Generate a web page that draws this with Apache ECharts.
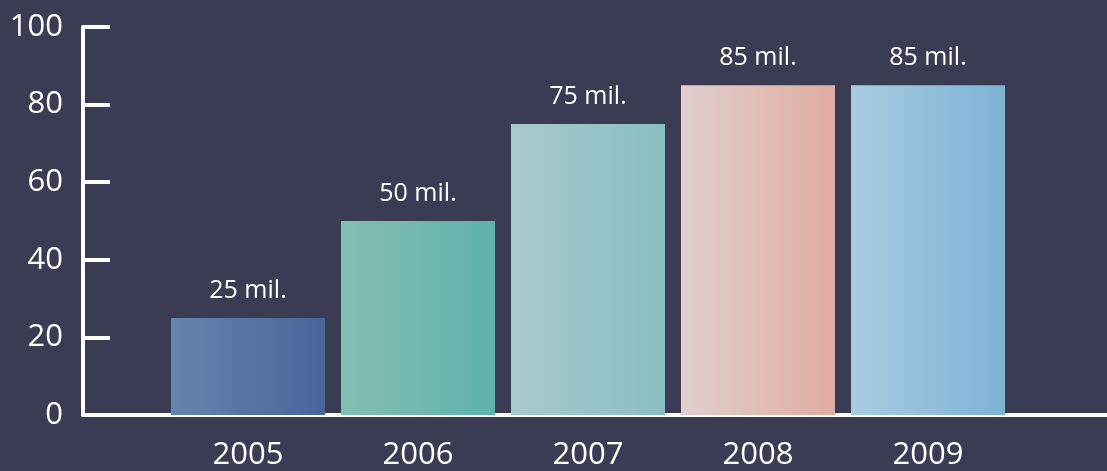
<!DOCTYPE html>
<html>
<head>
<meta charset="utf-8">
<script src="https://cdn.jsdelivr.net/npm/echarts@6/dist/echarts.min.js"></script>
<style>
html,body{margin:0;padding:0;background:#393c52;}
#c{width:1107px;height:471px;}
</style>
</head>
<body>
<div id="c"></div>
<script>
const categories = ['2005', '2006', '2007', '2008', '2009'];
const years = [2005, 2006, 2007, 2008, 2009];
const values = [25, 50, 75, 85, 85];
const yTicks = [0, 20, 40, 60, 80, 100];
const gradients = [
  ['#6585ad', '#48649a'],
  ['#86bdb3', '#5db3aa'],
  ['#a9cacd', '#89bec1'],
  ['#e0d0cf', '#e0ac9f'],
  ['#a9cbe1', '#7db3d6']
];

const chart = echarts.init(document.getElementById('c'));
const font = '"Open Sans", "Noto Sans", sans-serif';
chart.setOption({
  backgroundColor: '#393c52',
  animation: false,
  grid: { left: 83, right: 0, top: 27, bottom: 54.5, containLabel: false },
  xAxis: {
    type: 'value',
    min: 2005 - 165 / 170,
    max: 2005 - 165 / 170 + 1024 / 170,
    splitLine: { show: false },
    axisLine: { show: true, lineStyle: { color: '#ffffff', width: 4 } },
    axisTick: { show: false },
    axisLabel: {
      customValues: years,
      formatter: v => categories[years.indexOf(Math.round(v))] || '',
      color: '#ffffff',
      fontSize: 31,
      fontFamily: font,
      margin: 25
    }
  },
  yAxis: {
    type: 'value',
    min: 0,
    max: 100,
    interval: 20,
    splitLine: { show: false },
    axisLine: { show: true, lineStyle: { color: '#ffffff', width: 4 } },
    axisTick: { show: true, inside: true, length: 27, lineStyle: { color: '#ffffff', width: 4 } },
    axisLabel: {
      customValues: yTicks,
      color: '#ffffff',
      fontSize: 31,
      fontFamily: font,
      margin: 20,
      padding: [6, 0, 0, 0]
    }
  },
  series: [{
    type: 'bar',
    barWidth: 154,
    data: years.map((y, i) => ({
      value: [y, values[i]],
      itemStyle: {
        color: new echarts.graphic.LinearGradient(0, 0, 1, 0, [
          { offset: 0, color: gradients[i][0] },
          { offset: 1, color: gradients[i][1] }
        ])
      }
    })),
    label: {
      show: true,
      position: 'top',
      distance: 15,
      color: '#ffffff',
      fontSize: 25,
      fontFamily: font,
      formatter: p => p.value[1] + ' mil.'
    }
  }]
});
</script>
</body>
</html>
